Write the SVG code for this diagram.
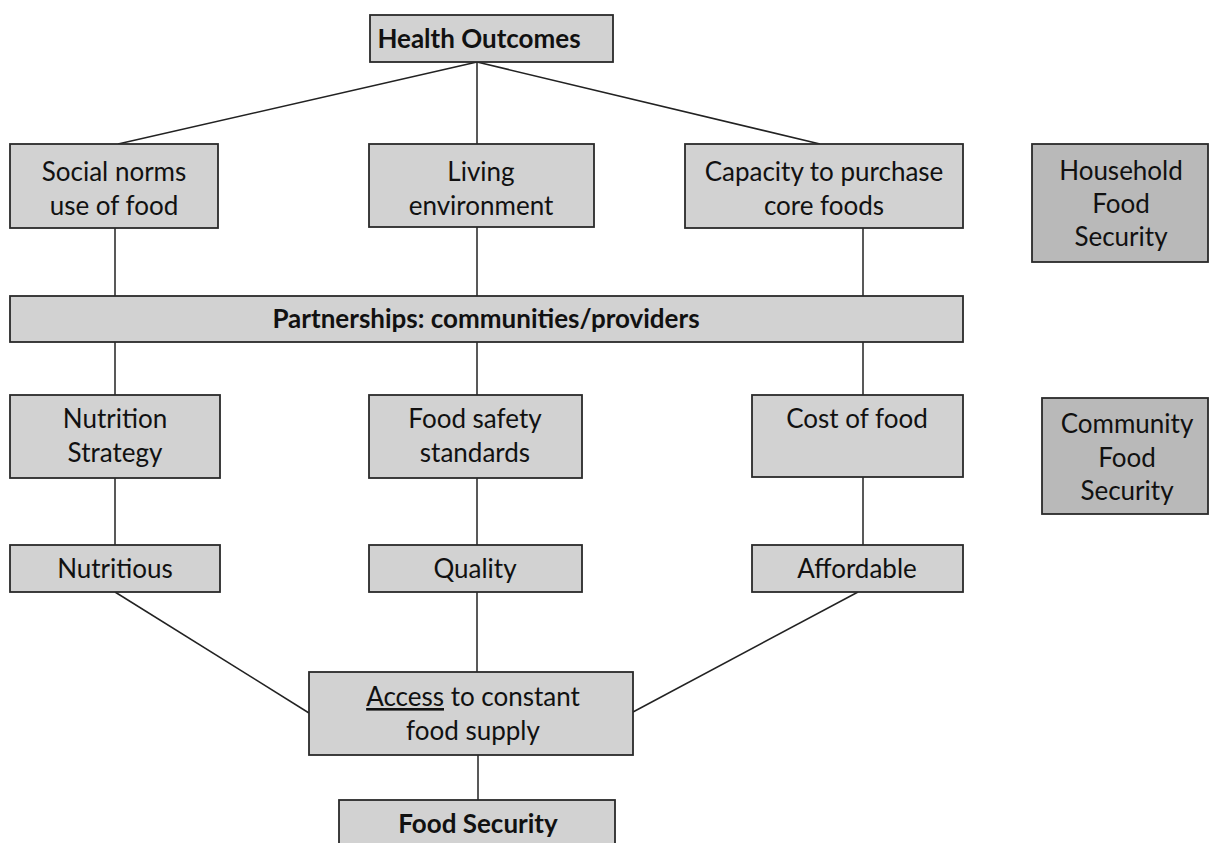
<svg xmlns="http://www.w3.org/2000/svg" width="1212" height="843" viewBox="0 0 1212 843">
<style>
.box{fill:#d2d2d2;stroke:#2a2a2a;stroke-width:1.8}
.dark{fill:#b9b9b9;stroke:#2a2a2a;stroke-width:1.8}
.t{font-family:Lato,"Open Sans",sans-serif;font-size:26px;fill:#111;text-anchor:middle}
.b{font-weight:bold}
.c line{stroke:#222;stroke-width:1.5}
</style>
<rect width="1212" height="843" fill="#fff"/>
<g class="c" id="connectors">
<line x1="477" y1="62" x2="118" y2="144"/>
<line x1="477" y1="62" x2="477" y2="144"/>
<line x1="477" y1="62" x2="820" y2="144"/>
<line x1="115" y1="228" x2="115" y2="296"/>
<line x1="477" y1="227" x2="477" y2="296"/>
<line x1="863" y1="228" x2="863" y2="296"/>
<line x1="115" y1="342" x2="115" y2="395"/>
<line x1="477" y1="342" x2="477" y2="395"/>
<line x1="863" y1="342" x2="863" y2="395"/>
<line x1="115" y1="478" x2="115" y2="545"/>
<line x1="477" y1="478" x2="477" y2="545"/>
<line x1="863" y1="477" x2="863" y2="545"/>
<line x1="115" y1="592" x2="309" y2="713"/>
<line x1="477" y1="592" x2="477" y2="672"/>
<line x1="858" y1="592" x2="633" y2="712"/>
<line x1="478" y1="755" x2="478" y2="800"/>
</g>
<g id="health"><rect class="box" x="370" y="15" width="243" height="47"/><text class="t b" x="479" y="48">Health Outcomes</text></g>
<g id="social"><rect class="box" x="10" y="144" width="208" height="84"/><text class="t" x="114" y="181">Social norms</text><text class="t" x="114" y="215">use of food</text></g>
<g id="living"><rect class="box" x="369" y="144" width="225" height="83"/><text class="t" x="481" y="181">Living</text><text class="t" x="481" y="215">environment</text></g>
<g id="capacity"><rect class="box" x="685" y="144" width="278" height="84"/><text class="t" x="824" y="181">Capacity to purchase</text><text class="t" x="824" y="215">core foods</text></g>
<g id="household"><rect class="dark" x="1032" y="144" width="176" height="118"/><text class="t" x="1121" y="180">Household</text><text class="t" x="1121" y="213">Food</text><text class="t" x="1121" y="246">Security</text></g>
<g id="partnerships"><rect class="box" x="10" y="296" width="953" height="46"/><text class="t b" x="486" y="328">Partnerships: communities/providers</text></g>
<g id="nutrition"><rect class="box" x="10" y="395" width="210" height="83"/><text class="t" x="115" y="428">Nutrition</text><text class="t" x="115" y="462">Strategy</text></g>
<g id="foodsafety"><rect class="box" x="369" y="395" width="213" height="83"/><text class="t" x="475" y="428">Food safety</text><text class="t" x="475" y="462">standards</text></g>
<g id="cost"><rect class="box" x="752" y="395" width="211" height="82"/><text class="t" x="857" y="428">Cost of food</text></g>
<g id="community"><rect class="dark" x="1042" y="398" width="166" height="116"/><text class="t" x="1127" y="433">Community</text><text class="t" x="1127" y="467">Food</text><text class="t" x="1127" y="500">Security</text></g>
<g id="nutritious"><rect class="box" x="10" y="545" width="210" height="47"/><text class="t" x="115" y="578">Nutritious</text></g>
<g id="quality"><rect class="box" x="369" y="545" width="213" height="47"/><text class="t" x="475" y="578">Quality</text></g>
<g id="affordable"><rect class="box" x="752" y="545" width="211" height="47"/><text class="t" x="857" y="578">Affordable</text></g>
<g id="access"><rect class="box" x="309" y="672" width="324" height="83"/><text class="t" x="473" y="706"><tspan text-decoration="underline">Access</tspan> to constant</text><text class="t" x="473" y="740">food supply</text></g>
<g id="foodsecurity"><rect class="box" x="339" y="800" width="276" height="50"/><text class="t b" x="478" y="833">Food Security</text></g>
</svg>
